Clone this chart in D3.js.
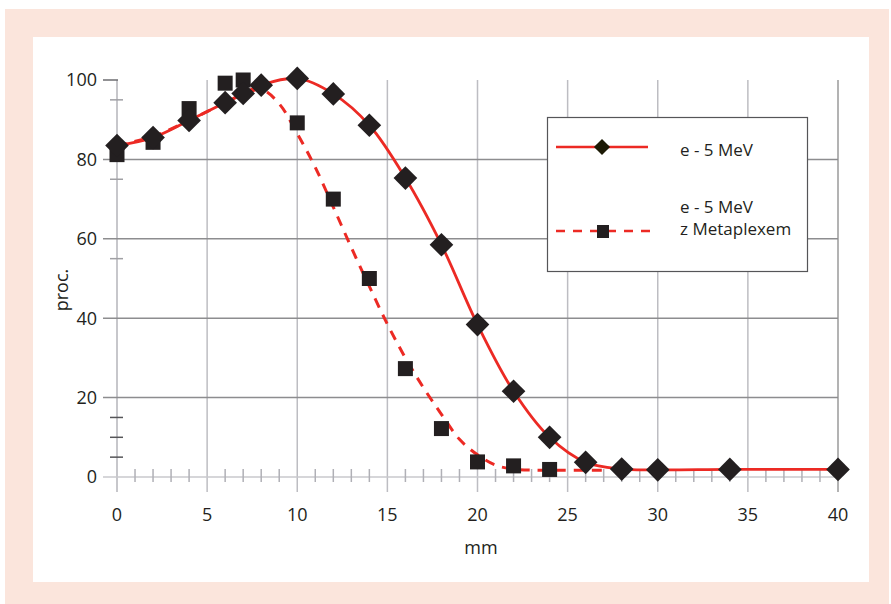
<!DOCTYPE html>
<html>
<head>
<meta charset="utf-8">
<script src="https://cdn.jsdelivr.net/npm/d3@7"></script>
<style>
  html, body { margin: 0; padding: 0; background: #ffffff; }
  svg { display: block; }
  text { font-family: "Open Sans", "Noto Sans", sans-serif; fill: #231f20; }
</style>
</head>
<body>
<svg id="chart" width="891" height="604"></svg>
<script>
// measured points: depth in mm vs. relative dose (proc.)
const depthPlain = [0, 2, 4, 6, 7, 8, 10, 12, 14, 16, 18, 20, 22, 24, 26, 28, 30, 34, 40];
const dosePlain = [83.5, 85.5, 89.8, 94.3, 96.6, 98.7, 100.4, 96.5, 88.6, 75.3, 58.5, 38.4, 21.6, 10, 3.7, 2, 1.8, 1.9, 1.9];

const depthPlex = [0, 2, 4, 6, 7, 10, 12, 14, 16, 18, 20, 22, 24];
const dosePlex = [81.2, 84.3, 92.8, 99.2, 100, 89.2, 70, 50, 27.3, 12.2, 3.8, 2.8, 1.9];

// dashed fit curve as drawn in the figure
const depthPlexFit = [0, 2, 4, 6, 7, 8, 9, 10, 11, 12, 13, 14, 15, 16, 17, 18, 19, 20, 21, 22, 24, 27];
const dosePlexFit = [83.5, 85.8, 89.8, 94.3, 96.4, 97.6, 94, 86.5, 78, 68, 57.8, 48, 38.5, 30, 22.5, 15.8, 9.5, 5.6, 3, 2, 1.7, 1.7];

const xTicks = [0, 5, 10, 15, 20, 25, 30, 35, 40];
const yTicks = [0, 20, 40, 60, 80, 100];
const yMinor = [5, 10, 15, 55, 75, 95];
const legendLabels = [['e - 5 MeV'], ['e - 5 MeV', 'z Metaplexem']];

const RED = '#ec2a24';
const INK = '#231f20';

const svg = d3.select('#chart');

// peach frame + white panel
svg.append('rect').attr('x', 5).attr('y', 9).attr('width', 884).attr('height', 595).attr('fill', '#fbe5dc');
svg.append('rect').attr('x', 33).attr('y', 37).attr('width', 836).attr('height', 545).attr('fill', '#ffffff');

const x = d3.scaleLinear().domain([0, 40]).range([117, 838]);
const y = d3.scaleLinear().domain([0, 100]).range([477, 80]);

const grid = svg.append('g');

// vertical grid lines
grid.selectAll('line.v')
  .data(xTicks.slice(1))
  .join('line')
  .attr('x1', d => x(d)).attr('x2', d => x(d))
  .attr('y1', y(100)).attr('y2', 492)
  .attr('stroke', d => d === 40 ? '#9a9a9a' : '#bdbdc2')
  .attr('stroke-width', 1.5);

// y axis line
grid.append('line')
  .attr('x1', x(0)).attr('x2', x(0))
  .attr('y1', y(100)).attr('y2', 492)
  .attr('stroke', '#b5b5ba').attr('stroke-width', 1.5);

// zero line with minor x ticks
grid.append('line')
  .attr('x1', 103).attr('x2', x(40))
  .attr('y1', y(0)).attr('y2', y(0))
  .attr('stroke', '#c8c8cc').attr('stroke-width', 1.5);

grid.selectAll('line.xm')
  .data(d3.range(1, 40).filter(d => d % 5 !== 0))
  .join('line')
  .attr('x1', d => x(d)).attr('x2', d => x(d))
  .attr('y1', y(0) - 8).attr('y2', y(0) + 5)
  .attr('stroke', '#b0b0b6').attr('stroke-width', 1.5);

// horizontal grid lines
grid.selectAll('line.h')
  .data(yTicks.filter(d => d > 0 && d < 100))
  .join('line')
  .attr('x1', 103).attr('x2', x(40))
  .attr('y1', d => y(d)).attr('y2', d => y(d))
  .attr('stroke', '#8d8d8f').attr('stroke-width', 1.5);

grid.append('line')
  .attr('x1', 103).attr('x2', x(0) + 1)
  .attr('y1', y(100)).attr('y2', y(100))
  .attr('stroke', '#6d6d70').attr('stroke-width', 1.5);

grid.selectAll('line.ym')
  .data(yMinor)
  .join('line')
  .attr('x1', 110).attr('x2', 123)
  .attr('y1', d => y(d)).attr('y2', d => y(d))
  .attr('stroke', d => d < 20 ? '#555558' : '#a0a0a4').attr('stroke-width', 1.5);

// tick labels
svg.append('g').selectAll('text')
  .data(yTicks)
  .join('text')
  .attr('x', 97).attr('y', d => y(d))
  .attr('dy', '0.36em')
  .attr('text-anchor', 'end')
  .attr('font-size', 18)
  .text(d => d);

svg.append('g').selectAll('text')
  .data(xTicks)
  .join('text')
  .attr('x', d => x(d)).attr('y', 515)
  .attr('dy', '0.36em')
  .attr('text-anchor', 'middle')
  .attr('font-size', 18)
  .text(d => d);

svg.append('text')
  .attr('x', 481).attr('y', 548).attr('dy', '0.36em')
  .attr('text-anchor', 'middle').attr('font-size', 18)
  .text('mm');

svg.append('text')
  .attr('transform', 'translate(62,290) rotate(-90)')
  .attr('dy', '0.36em')
  .attr('text-anchor', 'middle').attr('font-size', 18)
  .text('proc.');

// curves
const plexLine = d3.line()
  .x(d => x(d[0])).y(d => y(d[1]))
  .curve(d3.curveCatmullRom.alpha(0.5));

svg.append('path')
  .datum(d3.zip(depthPlexFit, dosePlexFit))
  .attr('d', plexLine)
  .attr('fill', 'none')
  .attr('stroke', RED).attr('stroke-width', 3)
  .attr('stroke-dasharray', '10,8');

svg.append('path')
  .datum(d3.zip(depthPlain, dosePlain))
  .attr('d', plexLine)
  .attr('fill', 'none')
  .attr('stroke', RED).attr('stroke-width', 2.8);

// markers
const squareSide = 15;
svg.append('g').selectAll('rect')
  .data(d3.zip(depthPlex, dosePlex))
  .join('rect')
  .attr('x', d => x(d[0]) - squareSide / 2)
  .attr('y', d => y(d[1]) - squareSide / 2)
  .attr('width', squareSide).attr('height', squareSide)
  .attr('fill', INK);

const diamond = d3.symbol().type(d3.symbolSquare).size(280);
svg.append('g').selectAll('path')
  .data(d3.zip(depthPlain, dosePlain))
  .join('path')
  .attr('d', diamond)
  .attr('transform', d => `translate(${x(d[0])},${y(d[1])}) rotate(45)`)
  .attr('fill', INK);

// legend
const lg = svg.append('g');
lg.append('rect')
  .attr('x', 547.5).attr('y', 117.5).attr('width', 260).attr('height', 154)
  .attr('fill', '#ffffff').attr('stroke', '#555558').attr('stroke-width', 1.2);

lg.append('line')
  .attr('x1', 556).attr('x2', 648).attr('y1', 147).attr('y2', 147)
  .attr('stroke', RED).attr('stroke-width', 2.5);
lg.append('path')
  .attr('d', d3.symbol().type(d3.symbolSquare).size(130))
  .attr('transform', 'translate(602,147) rotate(45)')
  .attr('fill', '#1c1a05');

lg.append('line')
  .attr('x1', 556).attr('x2', 657).attr('y1', 231).attr('y2', 231)
  .attr('stroke', RED).attr('stroke-width', 2.5)
  .attr('stroke-dasharray', '9,8');
lg.append('rect')
  .attr('x', 597).attr('y', 225).attr('width', 12).attr('height', 13)
  .attr('fill', INK);

const legendY = [[150], [207, 229]];
legendLabels.forEach((lines, i) => {
  lines.forEach((t, j) => {
    lg.append('text')
      .attr('x', 680).attr('y', legendY[i][j]).attr('dy', '0.36em')
      .attr('font-size', 17)
      .text(t);
  });
});
</script>
</body>
</html>
